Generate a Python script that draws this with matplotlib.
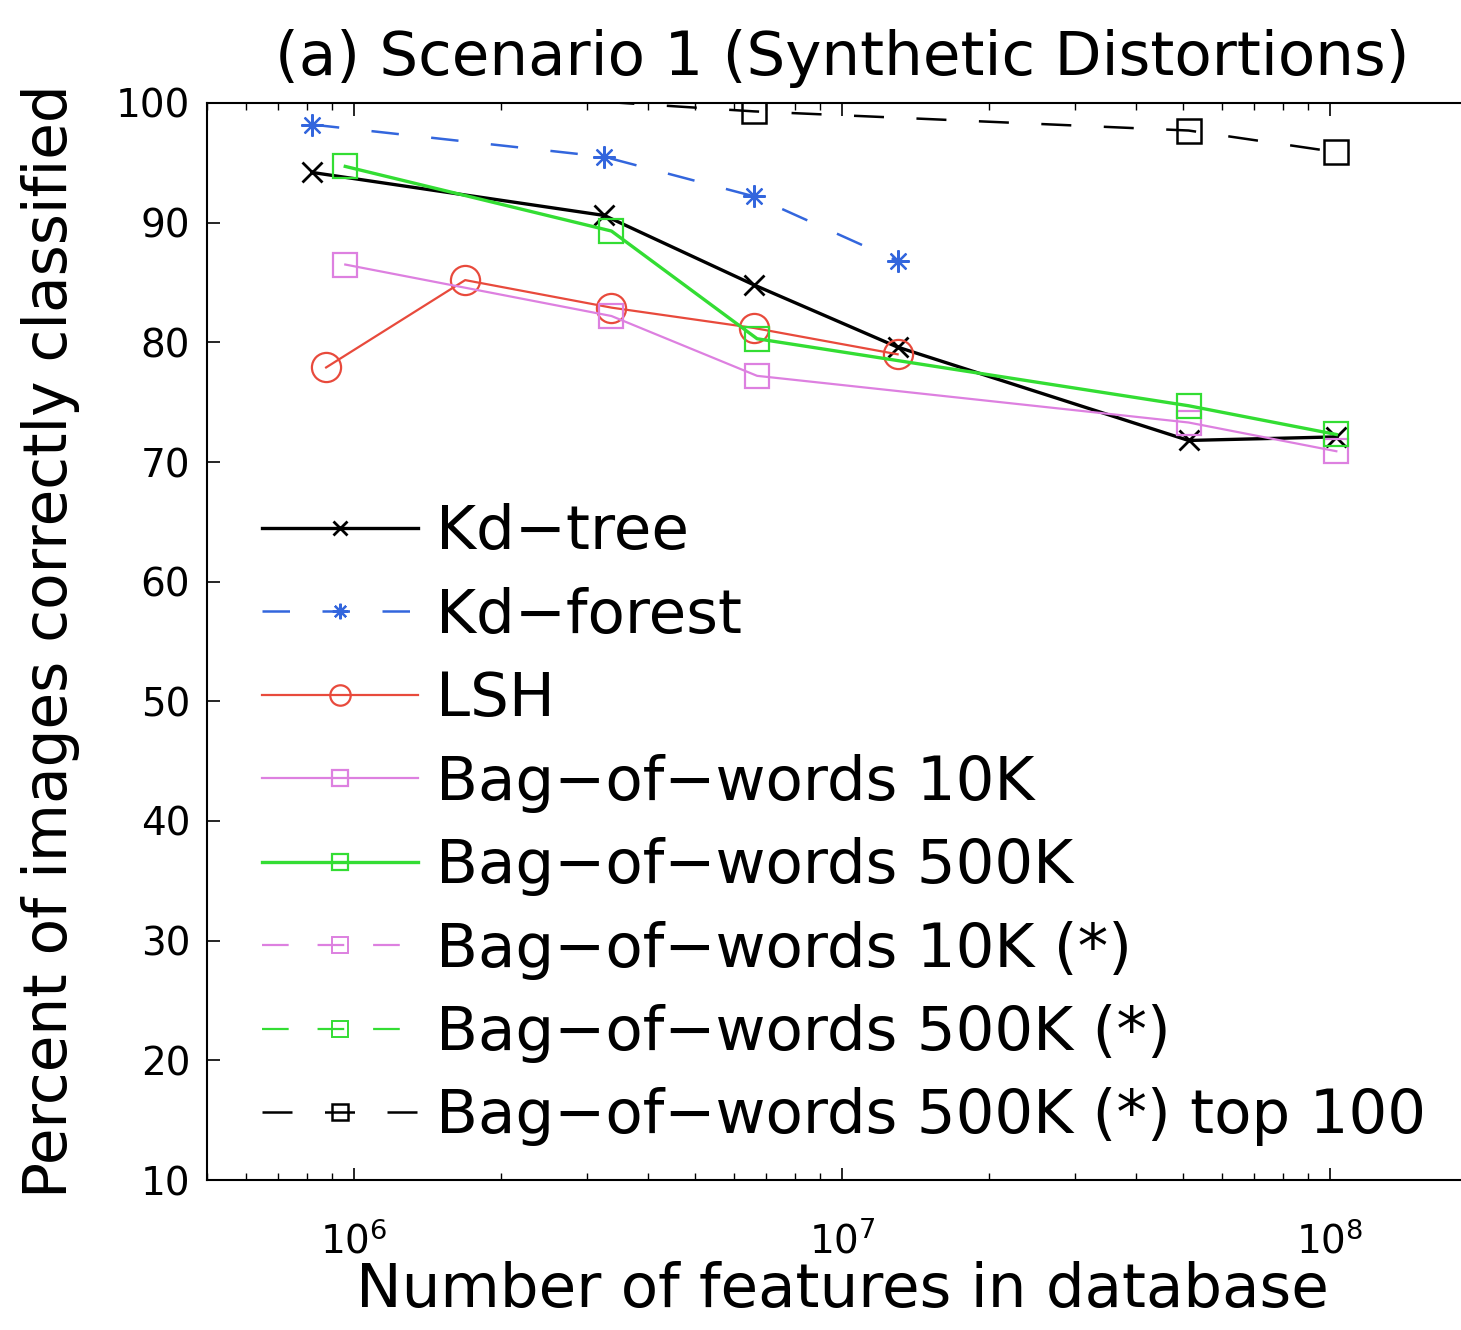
import matplotlib
matplotlib.use("Agg")
import matplotlib.pyplot as plt

plt.rcParams['font.family'] = ['DejaVu Sans']
plt.rcParams['mathtext.fontset'] = 'dejavusans'

# data
kd_x = [8.2e5, 3.26e6, 6.6e6, 1.3e7, 5.13e7, 1.03e8]
kdtree_y = [94.2, 90.6, 84.8, 79.6, 71.8, 72.1]
kdforest_x = [8.2e5, 3.26e6, 6.6e6, 1.3e7]
kdforest_y = [98.2, 95.5, 92.2, 86.8]
lsh_x = [8.77e5, 1.69e6, 3.37e6, 6.6e6, 1.3e7]
lsh_y = [77.9, 85.2, 82.9, 81.2, 79.0]
bow_x = [9.6e5, 3.37e6, 6.7e6, 5.13e7, 1.03e8]
bow10k_y = [86.5, 82.2, 77.2, 73.3, 70.9]
bow500k_y = [94.7, 89.3, 80.3, 74.7, 72.3]
top100_x = [3.26e6, 6.6e6, 5.13e7, 1.03e8]
top100_y = [100.1, 99.3, 97.7, 95.9]

labels = ['Kd\u2212tree', 'Kd\u2212forest', 'LSH',
          'Bag\u2212of\u2212words 10K', 'Bag\u2212of\u2212words 500K',
          'Bag\u2212of\u2212words 10K (*)', 'Bag\u2212of\u2212words 500K (*)',
          'Bag\u2212of\u2212words 500K (*) top 100']

W, H = 1461, 1330
fig = plt.figure(figsize=(W / 100, H / 100), dpi=100)
fig.patch.set_facecolor('white')
ax = fig.add_axes([207 / W, 150 / H, 1270 / W, 1077 / H])

dash = (12, 13)
star = (8, 2, 0)
ax.plot(kd_x, kdtree_y, color='black', lw=2.4, marker='x', ms=15, mew=2, label=labels[0])
ax.plot(kdforest_x, kdforest_y, color='#3366dd', lw=1.8, marker=star, ms=16, mew=1.6,
        dashes=(11, 13), label=labels[1])
ax.plot(lsh_x, lsh_y, color='#e84a3c', lw=1.6, marker='o', ms=21, mfc='none', mew=1.6, label=labels[2])
ax.plot(bow_x, bow10k_y, color='#dd80e0', lw=1.6, marker='s', ms=17, mfc='none', mew=1.6, label=labels[3])
ax.plot(bow_x, bow500k_y, color='#33dd33', lw=2.4, marker='s', ms=17, mfc='none', mew=1.6, label=labels[4])
ax.plot([], [], color='#dd80e0', lw=1.6, marker='s', ms=17, mfc='none', mew=1.4, dashes=dash, label=labels[5])
ax.plot([], [], color='#33dd33', lw=1.6, marker='s', ms=17, mfc='none', mew=1.4, dashes=dash, label=labels[6])
ax.plot(top100_x, top100_y, color='black', lw=1.8, marker='s', ms=17, mfc='none', mew=1.8,
        dashes=dash, markevery=[1, 2, 3], label=labels[7])

ax.set_xscale('log')
ax.set_xlim(5e5, 2e8)
ax.set_ylim(10, 100)
ax.set_yticks(range(10, 101, 10))

ax.tick_params(which='both', direction='in', top=True, right=True, labelsize=28)
ax.tick_params(which='major', length=9, width=1.2)
ax.tick_params(which='minor', length=5, width=1.0)
ax.tick_params(axis='y', pad=12)
ax.tick_params(axis='x', pad=30)
for s in ax.spines.values():
    s.set_linewidth(1.5)

ax.set_xlabel('Number of features in database', fontsize=44, labelpad=0)
ax.set_ylabel('Percent of images correctly classified', fontsize=43, labelpad=26)
ax.set_title('(a) Scenario 1 (Synthetic Distortions)', fontsize=44, pad=20)

h, l = ax.get_legend_handles_labels()
leg = ax.legend(h, l, loc='upper left', bbox_to_anchor=(0.024, 0.651), frameon=False,
                fontsize=44, handlelength=2.55, handletextpad=0.3, labelspacing=0.4,
                markerscale=0.7, borderaxespad=0)

fig.savefig('out.png', dpi=100, facecolor='white')
